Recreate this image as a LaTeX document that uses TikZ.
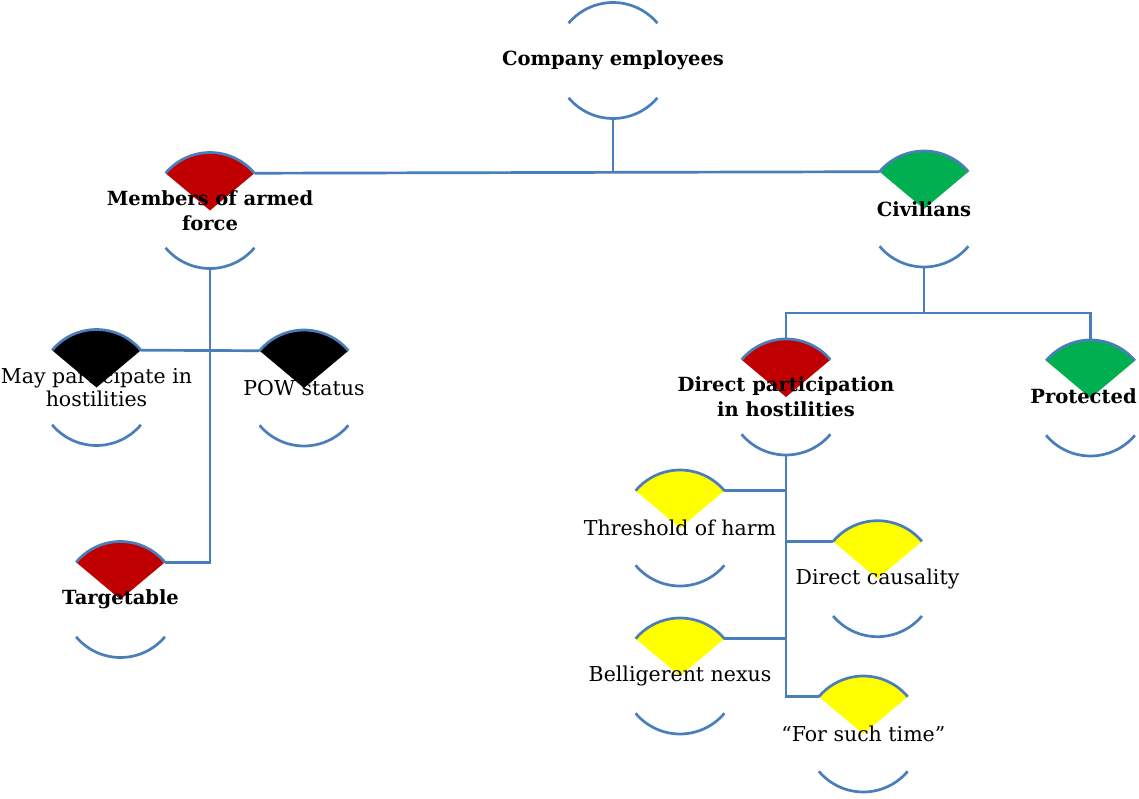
\documentclass[tikz,border=0pt]{standalone}
\usepackage{fontspec}
\setmainfont{DejaVu Serif}
\usetikzlibrary{calc}
\definecolor{linkblue}{HTML}{4A7EBB}
\definecolor{wred}{HTML}{C00000}
\definecolor{wgreen}{HTML}{00B050}
\definecolor{wyellow}{HTML}{FFFF00}
\newcommand\R{58pt}
% #1 name, #2 x, #3 y (downwards), #4 wedge fill, #5 label style, #6 label
\newcommand\hnode[6]{%
  \coordinate (#1) at (#2,-#3);
  \path[#4] (#1) -- ($(#1)+(40:\R)$) arc[start angle=40,end angle=140,radius=\R] -- cycle;
  \draw[arcline] ($(#1)+(40:\R)$) coordinate (#1-tr)
     arc[start angle=40,end angle=140,radius=\R] coordinate (#1-tl);
  \draw[arcline] ($(#1)+(220:\R)$) coordinate (#1-bl)
     arc[start angle=220,end angle=320,radius=\R] coordinate (#1-br);
  \coordinate (#1-top) at ($(#1)+(90:\R)$);
  \coordinate (#1-bot) at ($(#1)+(270:\R)$);
  \node[#5] (#1-text) at (#1) {#6};
}
\begin{document}
\begin{tikzpicture}[x=1pt,y=1pt,
  arcline/.style={draw=linkblue,line width=2.7pt},
  conn/.style={draw=linkblue,line width=2.7pt},
  boldlabel/.style={font=\fontsize{19.5}{25}\selectfont\bfseries,align=center,inner sep=0pt},
  plainlabel/.style={font=\fontsize{20.5}{23}\selectfont,align=center,inner sep=0pt}]
\useasboundingbox (0,0) rectangle (1139,-799);
\fill[white] (0,0) rectangle (1139,-799);

% nodes
\hnode{comp}{613}{60.5}{fill=none}{boldlabel}{Company employees}
\hnode{mem}{210}{210.5}{fill=wred}{boldlabel}{Members of armed\\force}
\hnode{civ}{924}{209}{fill=wgreen}{boldlabel}{Civilians}
\hnode{may}{96.5}{387.5}{fill=black}{plainlabel}{May participate in\\hostilities}
\hnode{pow}{304}{388}{fill=black}{plainlabel}{POW status}
\hnode{tgt}{120.5}{599.5}{fill=wred}{boldlabel}{Targetable}
\hnode{dph}{786}{397}{fill=wred}{boldlabel}{Direct participation\\in hostilities}
\hnode{prot}{1090.5}{398}{fill=wgreen}{boldlabel,xshift=-7pt,yshift=2pt}{Protected}
\hnode{thr}{680}{528}{fill=wyellow}{plainlabel}{Threshold of harm}
\hnode{dc}{877.5}{578.7}{fill=wyellow}{plainlabel}{Direct causality}
\hnode{bel}{680}{676}{fill=wyellow}{plainlabel}{Belligerent nexus}
\hnode{fst}{863.3}{734}{fill=wyellow}{plainlabel}{``For such time''}

% tree links
\draw[conn] (comp-bot) -- (comp-bot |- mem-tr);
\draw[conn] (mem-tr) -- (civ-tl);
\draw[conn] (mem-bot) -- (mem-bot |- tgt-tr) -- (tgt-tr);
\draw[conn] (may-tr) -- (pow-tl);
\draw[conn] (civ-bot) -- ++(0,-46) coordinate (civ-bar);
\draw[conn] (dph-top) -- (dph-top |- civ-bar) -- (prot-top |- civ-bar) -- (prot-top);
\draw[conn] (dph-bot) -- (dph-bot |- fst-tl) -- (fst-tl);
\draw[conn] (thr-tr) -- (thr-tr -| dph-bot);
\draw[conn] (dc-tl) -- (dc-tl -| dph-bot);
\draw[conn] (bel-tr) -- (bel-tr -| dph-bot);
\end{tikzpicture}
\end{document}
